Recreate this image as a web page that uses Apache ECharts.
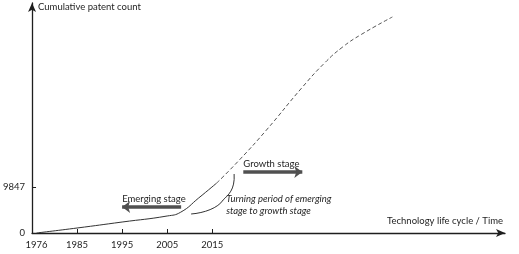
<!DOCTYPE html>
<html>
<head>
<meta charset="utf-8">
<script src="https://cdn.jsdelivr.net/npm/echarts@6/dist/echarts.min.js"></script>
<style>
  html, body { margin: 0; padding: 0; background: #fff; }
  #chart { width: 519px; height: 254px; }
</style>
</head>
<body>
<div id="chart"></div>
<script>
// observed part of the curve (solid) and projected part (dashed)
const solidYears = [1976, 1985, 1995, 2005, 2008, 2012, 2016];
const solidCounts = [0, 1070, 2350, 3640, 4450, 7500, 10700];
const dashedYears = [2016, 2021, 2027, 2035, 2040, 2044, 2048, 2055];
const dashedCounts = [10700, 15600, 22000, 31200, 36450, 39850, 42450, 46250];
const xTickYears = [1976, 1985, 1995, 2005, 2015];
const yTickValues = [0, 9847];

const FONT = 'Lato';
const INK = '#1e1e1e';

const chart = echarts.init(document.getElementById('chart'));

const toPairs = (xs, ys) => xs.map((x, i) => [x, ys[i]]);

chart.setOption({
  animation: false,
  grid: { left: 32, right: 14, top: 3, bottom: 21 },
  xAxis: {
    type: 'value',
    min: 1975,
    max: 2080,
    splitLine: { show: false },
    axisLine: {
      lineStyle: { color: INK, width: 1.3 },
      symbol: ['none', 'arrow'],
      symbolSize: [6, 9]
    },
    axisTick: { customValues: xTickYears.slice(1), inside: true, length: 4, lineStyle: { color: INK } },
    axisLabel: {
      customValues: xTickYears,
      formatter: v => String(v),
      margin: 7,
      color: INK,
      fontFamily: FONT,
      fontSize: 9.5
    }
  },
  yAxis: {
    type: 'value',
    min: 0,
    max: 49240,
    splitLine: { show: false },
    axisLine: {
      show: true,
      lineStyle: { color: INK, width: 1.3 },
      symbol: ['none', 'arrow'],
      symbolSize: [6, 9]
    },
    axisTick: { show: true, customValues: [9847], inside: true, length: 4, lineStyle: { color: INK } },
    axisLabel: {
      customValues: yTickValues,
      formatter: v => String(v),
      margin: 7,
      color: INK,
      fontFamily: FONT,
      fontSize: 9.5
    }
  },
  series: [
    {
      type: 'line',
      data: toPairs(solidYears, solidCounts),
      smooth: 0.5,
      showSymbol: false,
      lineStyle: { color: '#333', width: 1 },
      markLine: {
        silent: true,
        symbolSize: [9, 8],
        label: { show: false },
        lineStyle: { color: '#505050', width: 3.5, type: 'solid' },
        data: [
          [{ coord: [2008.1, 5567], symbol: 'none' }, { coord: [1995, 5567], symbol: 'arrow' }],
          [{ coord: [2021.9, 13060], symbol: 'none' }, { coord: [2035, 13060], symbol: 'arrow' }]
        ]
      }
    },
    {
      type: 'line',
      data: toPairs(dashedYears, dashedCounts),
      smooth: 0.5,
      showSymbol: false,
      lineStyle: { color: '#555', width: 1, type: [4, 2.5] }
    }
  ]
});

// annotation texts anchored in data space
const px = (x, y) => chart.convertToPixel({ gridIndex: 0 }, [x, y]);
const textEl = (pos, text, opts) => ({
  type: 'text',
  x: pos[0],
  y: pos[1],
  style: Object.assign({
    text,
    fill: INK,
    font: '9.5px ' + FONT,
    verticalAlign: 'middle'
  }, opts || {})
});

const emerging = px(1995, 7280);
const growth = px(2021.9, 14770);
const turning1 = px(2018.1, 7280);
const turning2 = px(2018.1, 4710);
const cusp = px(2017.2, 7065);
const brace = { stroke: '#333', lineWidth: 1, fill: 'none' };

chart.setOption({
  graphic: [
    textEl([38, 7], 'Cumulative patent count'),
    textEl([503, 221], 'Technology life cycle / Time', { align: 'right' }),
    textEl(emerging, 'Emerging stage'),
    textEl(growth, 'Growth stage'),
    textEl(turning1, 'Turning period of emerging', { font: 'italic 9.5px ' + FONT }),
    textEl(turning2, 'stage to growth stage', { font: 'italic 9.5px ' + FONT }),
    {
      type: 'bezierCurve',
      x: cusp[0],
      y: cusp[1],
      shape: { x1: -31, y1: 14, cpx1: -18, cpy1: 13, cpx2: -4, cpy2: 8, x2: 1, y2: 0 },
      style: brace
    },
    {
      type: 'bezierCurve',
      x: cusp[0],
      y: cusp[1],
      shape: { x1: 1, y1: 0, cpx1: 6, cpy1: -5, cpx2: 13, cpy2: -10, x2: 12, y2: -26 },
      style: brace
    }
  ]
});
</script>
</body>
</html>
